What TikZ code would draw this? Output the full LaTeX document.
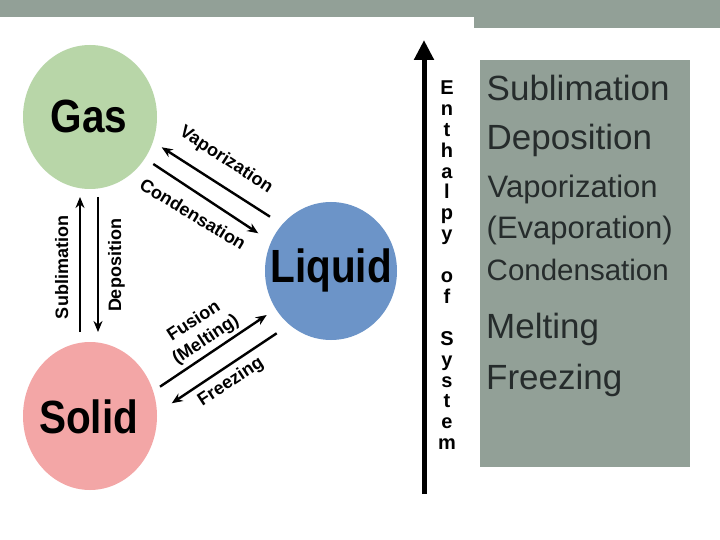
\documentclass[tikz,border=0pt]{standalone}
\usepackage{fontspec}
\setmainfont{Liberation Sans}
\usetikzlibrary{shapes.geometric,arrows.meta}
\definecolor{slidegray}{RGB}{146,160,151}
\definecolor{gasgreen}{RGB}{184,214,168}
\definecolor{liqblue}{RGB}{108,148,200}
\definecolor{solpink}{RGB}{243,166,166}
\definecolor{boxtext}{RGB}{38,44,44}
\begin{document}
\begin{tikzpicture}[x=1pt,y=-1pt,
  phase/.style={ellipse, inner sep=0pt, draw=none},
  phasetext/.style={font=\bfseries\fontsize{40.5}{40.5}\selectfont, inner sep=0pt, anchor=base},
  arrlabel/.style={font=\bfseries\fontsize{18}{22}\selectfont, inner sep=0pt, align=center},
  trans/.style={line width=2.4pt, -{Stealth[length=11pt,width=9pt]}},
  boxitem/.style={text=boxtext, inner sep=0pt, anchor=base west},
]
\useasboundingbox (0,0) rectangle (720,540);
\fill[white] (0,0) rectangle (720,540);
\fill[slidegray] (0,0) rectangle (720,17);
\fill[slidegray] (474,17) rectangle (720,28);
\fill[slidegray] (480,60) rectangle (690,467);

% phases
\node[phase, fill=gasgreen, minimum width=134pt, minimum height=144pt] (gas) at (90,117) {};
\node[phase, fill=liqblue, minimum width=132pt, minimum height=138pt] (liquid) at (331,271) {};
\node[phase, fill=solpink, minimum width=134pt, minimum height=148pt] (solid) at (90,416) {};
\node[phasetext] (gaslbl) at (89,133) {\scalebox{1}[1.15]{Gas}};
\node[phasetext] (liqlbl) at (331,282) {\scalebox{1}[1.15]{Liquid}};
\node[phasetext] (sollbl) at (88.5,433) {\scalebox{1}[1.15]{Solid}};

% enthalpy axis
\coordinate (hbot) at (424,494);
\coordinate (htop) at (424,40);
\draw[line width=5pt, -{Triangle[length=20pt,width=19pt]}] (hbot) -- (htop);
\node[font=\bfseries\fontsize{20}{20.9}\selectfont, align=center, inner sep=0pt, anchor=north] (enth) at (447,80.5)
  {E\\n\\t\\h\\a\\l\\p\\y\\[20.9pt]o\\f\\[20.9pt]S\\y\\s\\t\\e\\m};

% sublimation / deposition
\coordinate (s1) at (80,332);
\coordinate (s2) at (80,197);
\coordinate (d1) at (98,197);
\coordinate (d2) at (98,332);
\draw[trans] (s1) -- (s2);
\draw[trans] (d1) -- (d2);
\node[arrlabel, rotate=90, anchor=base] (sublbl) at (68,267.5) {Sublimation};
\node[arrlabel, rotate=90, anchor=base] (deplbl) at (121,265.5) {Deposition};

% vaporization / condensation
\coordinate (va) at (270,216.7);
\coordinate (vb) at (161.7,147.3);
\coordinate (ca) at (153.3,164);
\coordinate (cb) at (258.3,233.3);
\draw[trans] (va) -- (vb);
\draw[trans] (ca) -- (cb);
\node[arrlabel, rotate=-33] (vaplbl) at (226,160) {Vaporization};
\node[arrlabel, rotate=-31] (conlbl) at (193,214) {Condensation};

% fusion / freezing
\coordinate (fa) at (160,386.7);
\coordinate (fb) at (266.7,315);
\coordinate (za) at (276.7,333.3);
\coordinate (zb) at (171.7,403.3);
\draw[trans] (fa) -- (fb);
\draw[trans] (za) -- (zb);
\node[arrlabel, rotate=33] (fuslbl) at (200,331) {Fusion\\(Melting)};
\node[arrlabel, rotate=33] (frzlbl) at (231,382) {Freezing};

% right box list
\node[boxitem, font=\fontsize{35}{35}\selectfont] (b1) at (486.5,101) {Sublimation};
\node[boxitem, font=\fontsize{35}{35}\selectfont] (b2) at (486.5,150) {Deposition};
\node[boxitem, font=\fontsize{31}{31}\selectfont] (b3) at (487.5,197) {Vaporization};
\node[boxitem, font=\fontsize{31}{31}\selectfont] (b4) at (486.5,239) {(Evaporation)};
\node[boxitem, font=\fontsize{29.5}{29.5}\selectfont] (b5) at (486.5,280) {Condensation};
\node[boxitem, font=\fontsize{35}{35}\selectfont] (b6) at (486,338) {Melting};
\node[boxitem, font=\fontsize{35}{35}\selectfont] (b7) at (486,389) {Freezing};
\end{tikzpicture}
\end{document}
